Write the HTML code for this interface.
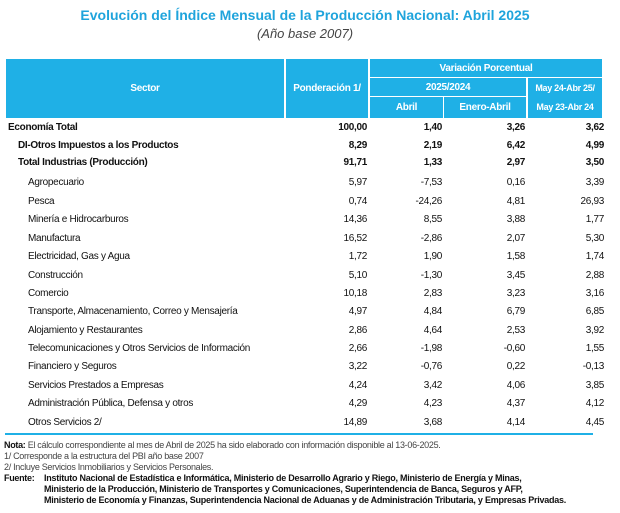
<!DOCTYPE html>
<html><head><meta charset="utf-8"><style>
body{margin:0;width:620px;height:513px;background:#fff;position:relative;overflow:hidden;font-family:"Liberation Sans",sans-serif;}
.a{position:absolute;white-space:nowrap;}
.h{position:absolute;background:#1fb0e6;color:#fff;font-weight:bold;font-size:10px;display:flex;align-items:center;justify-content:center;letter-spacing:-0.3px;}
.c{position:absolute;font-size:10px;color:#111;letter-spacing:-0.3px;white-space:nowrap;}
.n{text-align:right;}
.b{font-weight:bold;}
.nt{position:absolute;font-size:9px;color:#444;white-space:nowrap;letter-spacing:-0.3px;}
</style></head><body>
<div class="a" style="left:0;width:610px;text-align:center;top:7px;font-size:14px;font-weight:bold;color:#1fa4dc;">Evolución del Índice Mensual de la Producción Nacional: Abril 2025</div>
<div class="a" style="left:0;width:610px;text-align:center;top:26px;font-size:13px;font-style:italic;color:#444;">(Año base 2007)</div>

<div class="h" style="left:6px;top:59px;width:278px;height:59px;">Sector</div>
<div class="h" style="left:286px;top:59px;width:82px;height:59px;">Ponderación 1/</div>
<div class="h" style="left:370px;top:59px;width:232px;height:18px;">Variación Porcentual</div>
<div class="h" style="left:370px;top:78px;width:156px;height:18px;">2025/2024</div>
<div class="h" style="left:370px;top:97px;width:73px;height:21px;">Abril</div>
<div class="h" style="left:444px;top:97px;width:82px;height:21px;">Enero-Abril</div>
<div class="h" style="left:528px;top:78px;width:74px;height:40px;flex-direction:column;font-size:9px;line-height:19px;"><span>May 24-Abr 25/</span><span>May 23-Abr 24</span></div>

<div id="rows"></div>
<div class="a" style="left:5px;top:433px;width:588px;height:2px;background:#1fb0e6;"></div>

<div class="nt" style="left:4px;top:440px;"><b style="color:#111">Nota:</b> El cálculo correspondiente al mes de Abril de 2025 ha sido elaborado con información disponible al 13-06-2025.</div>
<div class="nt" style="left:4px;top:451px;">1/ Corresponde a la estructura del PBI año base 2007</div>
<div class="nt" style="left:4px;top:462px;">2/ Incluye Servicios Inmobiliarios y Servicios Personales.</div>
<div class="nt" style="left:4px;top:473px;font-weight:bold;color:#111;">Fuente:</div>
<div class="nt" style="left:44px;top:473px;font-weight:bold;color:#111;line-height:11px;letter-spacing:-0.25px;">Instituto Nacional de Estadística e Informática, Ministerio de Desarrollo Agrario y Riego, Ministerio de Energía y Minas,<br>Ministerio de la Producción, Ministerio de Transportes y Comunicaciones, Superintendencia de Banca, Seguros y AFP,<br>Ministerio de Economía y Finanzas, Superintendencia Nacional de Aduanas y de Administración Tributaria, y Empresas Privadas.</div>

<script>
const sectors=["Economía Total","DI-Otros Impuestos a los Productos","Total  Industrias (Producción)","Agropecuario","Pesca","Minería e Hidrocarburos","Manufactura","Electricidad, Gas y Agua","Construcción","Comercio","Transporte, Almacenamiento, Correo y Mensajería","Alojamiento y Restaurantes","Telecomunicaciones y Otros Servicios de Información","Financiero y Seguros","Servicios Prestados a Empresas","Administración Pública, Defensa y otros","Otros Servicios 2/"];
const ponderacion=["100,00","8,29","91,71","5,97","0,74","14,36","16,52","1,72","5,10","10,18","4,97","2,86","2,66","3,22","4,24","4,29","14,89"];
const abril=["1,40","2,19","1,33","-7,53","-24,26","8,55","-2,86","1,90","-1,30","2,83","4,84","4,64","-1,98","-0,76","3,42","4,23","3,68"];
const eneroAbril=["3,26","6,42","2,97","0,16","4,81","3,88","2,07","1,58","3,45","3,23","6,79","2,53","-0,60","0,22","4,06","4,37","4,14"];
const anual=["3,62","4,99","3,50","3,39","26,93","1,77","5,30","1,74","2,88","3,16","6,85","3,92","1,55","-0,13","3,85","4,12","4,45"];
const tops=[122,140,157,177,196,214,233,251,270,288,306,325,343,361,380,398,417];
const rows=document.getElementById('rows');
function cell(txt,left,width,top,cls,name){
  const d=document.createElement('div');
  d.className='c '+cls;
  d.style.left=left+'px';d.style.width=width+'px';d.style.top=top+'px';
  d.textContent=txt;
  
  
  rows.appendChild(d);
}
sectors.forEach((s,i)=>{
  const bold=i<3?'b':'';
  const indent=i==0?8:(i<3?18:28);
  cell(s,indent,270,tops[i],bold,'sector-label');
  cell(ponderacion[i],286,81,tops[i],'n '+bold,'ponderacion-value');
  cell(abril[i],370,72,tops[i],'n '+bold,'abril-value');
  cell(eneroAbril[i],444,81,tops[i],'n '+bold,'enero-abril-value');
  cell(anual[i],528,76,tops[i],'n '+bold,'anual-value');
});
</script>
</body></html>
